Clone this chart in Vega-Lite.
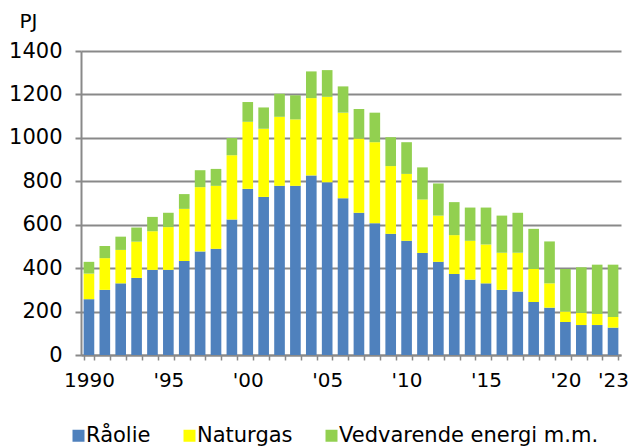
{
  "$schema": "https://vega.github.io/schema/vega-lite/v6.json",
  "width": 540,
  "height": 304,
  "autosize": {"type": "none"},
  "padding": {"left": 81, "top": 51, "right": 9, "bottom": 93},
  "background": "white",
  "config": {
    "font": "DejaVu Sans",
    "view": {"stroke": null}
  },
  "datasets": {
    "wide": [
      {"year": 1990, "a": 257, "b": 118, "c": 54},
      {"year": 1991, "a": 300, "b": 146, "c": 56},
      {"year": 1992, "a": 330, "b": 154, "c": 61},
      {"year": 1993, "a": 355, "b": 167, "c": 65},
      {"year": 1994, "a": 392, "b": 178, "c": 66},
      {"year": 1995, "a": 392, "b": 197, "c": 66},
      {"year": 1996, "a": 433, "b": 240, "c": 68},
      {"year": 1997, "a": 477, "b": 296, "c": 78},
      {"year": 1998, "a": 489, "b": 290, "c": 78},
      {"year": 1999, "a": 624, "b": 296, "c": 79},
      {"year": 2000, "a": 765, "b": 309, "c": 91},
      {"year": 2001, "a": 728, "b": 314, "c": 98},
      {"year": 2002, "a": 779, "b": 318, "c": 106},
      {"year": 2003, "a": 779, "b": 306, "c": 111},
      {"year": 2004, "a": 827, "b": 356, "c": 123},
      {"year": 2005, "a": 796, "b": 393, "c": 123},
      {"year": 2006, "a": 722, "b": 394, "c": 121},
      {"year": 2007, "a": 655, "b": 342, "c": 136},
      {"year": 2008, "a": 607, "b": 373, "c": 136},
      {"year": 2009, "a": 558, "b": 312, "c": 133},
      {"year": 2010, "a": 526, "b": 308, "c": 146},
      {"year": 2011, "a": 470, "b": 246, "c": 148},
      {"year": 2012, "a": 429, "b": 213, "c": 148},
      {"year": 2013, "a": 373, "b": 179, "c": 152},
      {"year": 2014, "a": 347, "b": 179, "c": 153},
      {"year": 2015, "a": 330, "b": 179, "c": 170},
      {"year": 2016, "a": 300, "b": 171, "c": 171},
      {"year": 2017, "a": 292, "b": 179, "c": 184},
      {"year": 2018, "a": 244, "b": 152, "c": 185},
      {"year": 2019, "a": 218, "b": 112, "c": 193},
      {"year": 2020, "a": 152, "b": 48, "c": 196},
      {"year": 2021, "a": 138, "b": 56, "c": 210},
      {"year": 2022, "a": 138, "b": 51, "c": 227},
      {"year": 2023, "a": 126, "b": 49, "c": 241}
    ]
  },
  "data": {"name": "wide"},
  "transform": [
    {"fold": ["a", "b", "c"], "as": ["kilde", "PJ"]}
  ],
  "mark": {"type": "bar"},
  "encoding": {
    "x": {
      "field": "year",
      "type": "ordinal",
      "scale": {"paddingInner": 0.33, "paddingOuter": 0.165},
      "axis": {
        "title": null,
        "labelAngle": 0,
        "labelFontSize": 20,
        "labelColor": "#000000",
        "labelPadding": 10,
        "labelOverlap": false,
        "labelExpr": "datum.value == 1990 ? '1990' : ((datum.value % 5 == 0 || datum.value == 2023) ? \"'\" + substring(datum.label, 2, 4) : '')",
        "domainColor": "#898989",
        "domainWidth": 2,
        "tickColor": "#898989",
        "tickWidth": 1.5,
        "tickSize": 5,
        "tickBand": "extent",
        "grid": false
      }
    },
    "y": {
      "field": "PJ",
      "type": "quantitative",
      "stack": "zero",
      "scale": {"domain": [0, 1400]},
      "axis": {
        "values": [0, 200, 400, 600, 800, 1000, 1200, 1400],
        "format": "d",
        "grid": true,
        "gridColor": "#898989",
        "gridWidth": 2,
        "domainColor": "#898989",
        "domainWidth": 2,
        "tickColor": "#898989",
        "tickWidth": 2,
        "tickSize": 6,
        "labelFontSize": 21,
        "labelColor": "#000000",
        "labelPadding": 13,
        "title": "PJ",
        "titleAngle": 0,
        "titleX": -62,
        "titleY": -24,
        "titleAlign": "left",
        "titleBaseline": "alphabetic",
        "titleFontWeight": "normal",
        "titleFontSize": 20,
        "titleColor": "#000000"
      }
    },
    "order": {"field": "kilde", "sort": "ascending"},
    "color": {
      "field": "kilde",
      "type": "nominal",
      "scale": {
        "domain": ["a", "b", "c"],
        "range": ["#4f81bd", "#ffff00", "#92d050"]
      },
      "legend": {
        "orient": "none",
        "legendX": -13,
        "legendY": 374,
        "direction": "horizontal",
        "title": null,
        "padding": 0,
        "symbolType": "square",
        "symbolSize": 144,
        "symbolStrokeWidth": 0,
        "labelFontSize": 21,
        "labelColor": "#000000",
        "labelOffset": -3,
        "labelLimit": 400,
        "columnPadding": 28,
        "labelExpr": "datum.value == 'a' ? 'Råolie' : (datum.value == 'b' ? 'Naturgas' : 'Vedvarende energi m.m.')"
      }
    }
  }
}
